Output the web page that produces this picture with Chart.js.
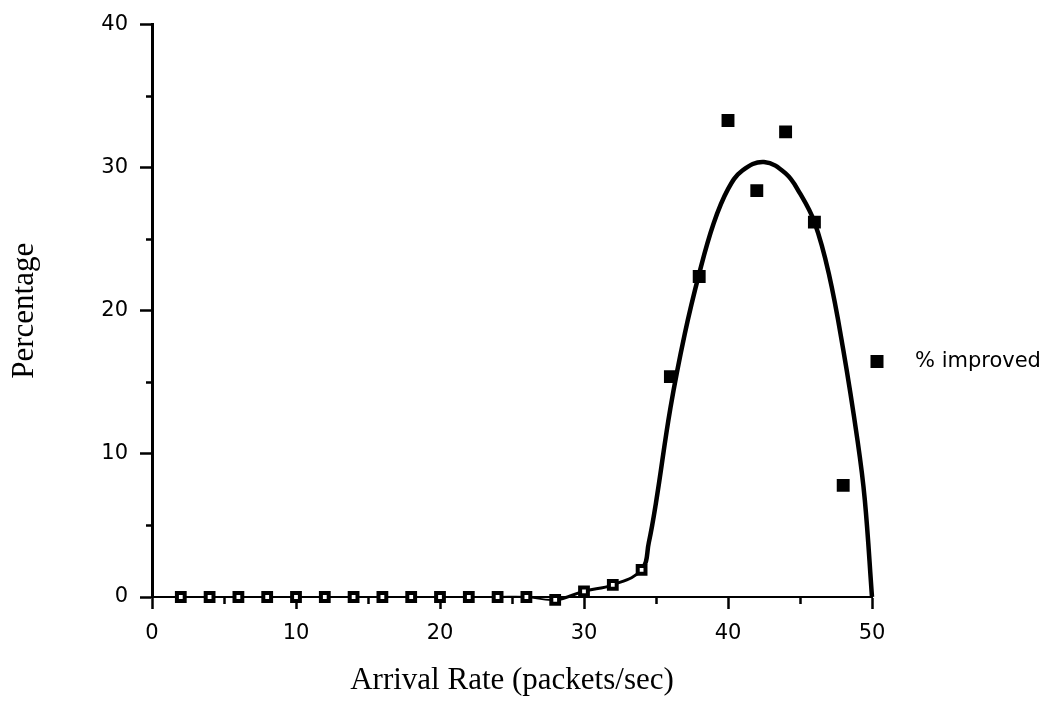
<!DOCTYPE html>
<html>
<head>
<meta charset="utf-8">
<title>% improved</title>
<script src="https://cdn.jsdelivr.net/npm/chart.js@4.4.1/dist/chart.umd.min.js"></script>
<style>
  html, body { margin: 0; padding: 0; background: #fff; }
  #caixa { width: 1058px; height: 719px; }
</style>
</head>
<body>
<div id="caixa"><canvas id="grafico"></canvas></div>
<script>
// medições: melhoria (%) para cada taxa de chegada (pacotes/s)
const taxas = [2, 4, 6, 8, 10, 12, 14, 16, 18, 20, 22, 24, 26, 28, 30, 32, 34, 36, 38, 40, 42, 44, 46, 48];
const melhoria = [0, 0, 0, 0, 0, 0, 0, 0, 0, 0, 0, 0, 0, -0.2, 0.4, 0.85, 1.9, 15.4, 22.4, 33.3, 28.4, 32.5, 26.2, 7.8];

// curva ajustada (lida ponto a ponto)
const curvaTaxas = [2, 4, 6, 8, 10, 12, 14, 16, 18, 20, 22, 24, 26, 28, 30, 32, 34,
    34.5, 35, 36, 37, 38, 39, 40, 41, 42.5, 44, 45, 46, 47, 48, 49, 49.5, 50];
const curvaValores = [0, 0, 0, 0, 0, 0, 0, 0, 0, 0, 0, 0, 0, -0.2, 0.4, 0.85, 1.9,
    3.8, 6.6, 13.2, 18.4, 22.6, 26.1, 28.5, 29.8, 30.4, 29.6, 28.2, 26.2, 22.6, 17.3, 10.9, 6.8, 0];

const rotulosX = [0, 10, 20, 30, 40, 50];
const rotulosY = [0, 10, 20, 30, 40];
const nomeSerie = '% improved';

const fonteNumeros = 'DejaVu Sans';
const fonteTitulos = 'Liberation Serif';

// legenda ao lado do gráfico, centrada na altura total
const legendaLateral = {
    id: 'legendaLateral',
    afterDraw(chart) {
        const {ctx, chartArea} = chart;
        const y = chart.height / 2 + 2;
        const x = chartArea.right + 5;
        ctx.save();
        ctx.fillStyle = '#000';
        ctx.fillRect(x - 6.5, y - 6.5, 13, 13);
        ctx.font = '21px "' + fonteNumeros + '"';
        ctx.textBaseline = 'middle';
        ctx.textAlign = 'left';
        ctx.fillText(chart.data.datasets[0].label, chartArea.right + 43, y);
        ctx.restore();
    }
};

const grafico = document.getElementById('grafico').getContext('2d');

new Chart(grafico, {
    type: 'scatter',
    data: {
        datasets: [{
            label: nomeSerie,
            data: taxas.map((t, i) => ({x: t, y: melhoria[i]})),
            showLine: false,
            pointStyle: 'rect',
            pointRadius: ctx => (ctx.raw && ctx.raw.y < 5) ? 5.5 : 7,
            pointBorderWidth: ctx => (ctx.raw && ctx.raw.y < 5) ? 4 : 3,
            pointBorderColor: '#000',
            pointBackgroundColor: ctx => (ctx.raw && ctx.raw.y < 5) ? '#fff' : '#000',
            clip: false
        }, {
            label: 'ajuste',
            data: curvaTaxas.map((t, i) => ({x: t, y: curvaValores[i]})),
            showLine: true,
            pointRadius: 0,
            borderColor: '#000',
            borderWidth: 2,
            tension: 0.4,
            segment: {
                borderWidth: ctx => ctx.p0.parsed.x >= 34 ? 4.5 : (ctx.p0.parsed.x >= 28 ? 3 : 2)
            },
            clip: false
        }]
    },
    options: {
        responsive: true,
        maintainAspectRatio: false,
        animation: false,
        layout: {
            padding: {top: 22, right: 186, bottom: 20, left: 6}
        },
        plugins: {
            legend: {display: false},
            tooltip: {enabled: false}
        },
        scales: {
            x: {
                type: 'linear',
                position: 'bottom',
                min: 0,
                max: 50,
                border: {color: '#000', width: 2},
                grid: {
                    drawOnChartArea: false,
                    color: '#000',
                    tickLength: 12,
                    tickWidth: 2.5,
                    tickBorderDash: ctx => ctx.tick && ctx.tick.value % 10 === 0 ? [] : [6, 20]
                },
                ticks: {
                    stepSize: 5,
                    autoSkip: false,
                    maxRotation: 0,
                    padding: 12,
                    color: '#000',
                    font: {family: fonteNumeros, size: 21},
                    callback: v => rotulosX.includes(v) ? String(v) : ''
                },
                title: {
                    display: true,
                    text: 'Arrival Rate (packets/sec)',
                    color: '#000',
                    font: {family: fonteTitulos, size: 31},
                    padding: {top: 0, bottom: 0}
                },
                afterFit: escala => { escala.height = 102; }
            },
            y: {
                min: 0,
                max: 40,
                border: {color: '#000', width: 3},
                grid: {
                    drawOnChartArea: false,
                    color: '#000',
                    tickLength: 12,
                    tickWidth: 2.5,
                    tickBorderDash: ctx => ctx.tick && ctx.tick.value % 10 === 0 ? [] : [0, 6, 6, 20]
                },
                ticks: {
                    stepSize: 5,
                    autoSkip: false,
                    padding: 12,
                    color: '#000',
                    font: {family: fonteNumeros, size: 21},
                    callback: v => rotulosY.includes(v) ? String(v) : ''
                },
                title: {
                    display: true,
                    text: 'Percentage',
                    color: '#000',
                    font: {family: fonteTitulos, size: 31},
                    padding: {top: 0, bottom: 0}
                },
                afterFit: escala => { escala.width = 146; }
            }
        }
    },
    plugins: [legendaLateral]
});
</script>
</body>
</html>
